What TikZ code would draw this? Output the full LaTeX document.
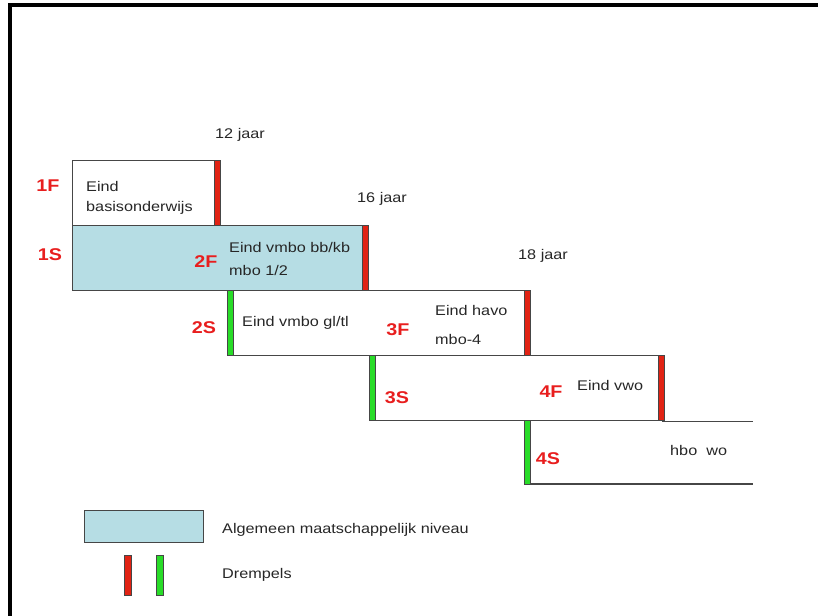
\documentclass[tikz,border=0pt]{standalone}
\usepackage{fontspec}
\setmainfont{Liberation Sans}[FakeStretch=1.16]
\usepackage{tikz}
\usetikzlibrary{positioning}
\definecolor{lijn}{RGB}{70,70,70}
\definecolor{niveaublauw}{RGB}{182,221,228}
\definecolor{drempelrood}{RGB}{225,35,20}
\definecolor{drempelgroen}{RGB}{40,220,40}
\definecolor{labelrood}{RGB}{232,30,30}
\tikzstyle{kader} = [rectangle, draw=lijn, line width=1.4pt, inner sep=0pt, anchor=north west]
\tikzstyle{rood} = [rectangle, draw=lijn, line width=0.5pt, fill=drempelrood, inner sep=0pt, minimum width=6pt, minimum height=65pt, anchor=north]
\tikzstyle{groen} = [rood, fill=drempelgroen]
\tikzstyle{niveau} = [text=labelrood, font=\bfseries\fontsize{17}{17}\selectfont, inner sep=0pt]
\tikzstyle{tekst} = [text=black!85, font=\fontsize{14}{20}\selectfont, anchor=west, inner sep=0pt, align=left]

\begin{document}
\begin{tikzpicture}[x=1pt,y=1pt]
			\clip (0,0) rectangle (818,-615);
			\draw [line width=4pt] (10,-700) -- (10,-5) -- (900,-5);
			
			% trappen
			\node (basis) [kader, minimum width=145pt, minimum height=65pt] at (72,-160) {};
			\node (amn) [kader, fill=niveaublauw, minimum width=293pt, minimum height=65pt] at (72,-225) {};
			\node (vmbo) [kader, minimum width=297pt, minimum height=65pt] at (230,-290) {};
			\node (havo) [kader, minimum width=289pt, minimum height=65pt] at (372,-355) {};
			\coordinate (hbotop) at (753,-420);
			\coordinate (hboonder) at (753,-484);
			\draw [draw=lijn, line width=1.4pt] (havo.south east) -- (havo.south east -| hbotop);
			\draw [draw=lijn, line width=1.4pt] (527,-484) -- (hboonder);
			
			% drempels
			\node (r1) [rood] at (217,-160) {};
			\node (r2) [rood] at (365,-225) {};
			\node (g2) [groen] at (230,-290) {};
			\node (r3) [rood] at (527,-290) {};
			\node (g3) [groen] at (372,-355) {};
			\node (r4) [rood] at (661,-355) {};
			\node (g4) [groen, minimum height=64pt] at (527,-420) {};
			
			% leeftijden
			\node (j12) [tekst] at (215,-135) {12 jaar};
			\node (j16) [tekst] at (357,-199) {16 jaar};
			\node (j18) [tekst] at (518,-256) {18 jaar};
			
			% niveaus
			\node (n1F) [niveau] at (48,-186) {1F};
			\node (n1S) [niveau] at (50,-255) {1S};
			\node (n2F) [niveau] at (206,-262) {2F};
			\node (n2S) [niveau] at (204,-328) {2S};
			\node (n3F) [niveau] at (398,-330) {3F};
			\node (n3S) [niveau] at (397,-398) {3S};
			\node (n4F) [niveau] at (551,-392) {4F};
			\node (n4S) [niveau] at (548,-459) {4S};
			
			% opleidingen
			\node (t1) [tekst] at (86,-197.5) {Eind\\basisonderwijs};
			\node (t2) [tekst, font=\fontsize{14}{23}\selectfont] at (229,-258.5) {Eind vmbo bb/kb\\mbo 1/2};
			\node (t3) [tekst] at (242,-323) {Eind vmbo gl/tl};
			\node (t4) [tekst, font=\fontsize{14}{29}\selectfont] at (435,-324.5) {Eind havo\\mbo-4};
			\node (t5) [tekst] at (577,-385) {Eind vwo};
			\node (t6) [tekst] at (670,-450) {hbo~~wo};
			
			% legenda
			\node (lblauw) [kader, fill=niveaublauw, minimum width=119pt, minimum height=32pt] at (84,-510) {};
			\node (lrood) [rood, minimum height=40pt, minimum width=7pt] at (127.5,-555) {};
			\node (lgroen) [groen, minimum height=40pt, minimum width=7pt] at (159.5,-555) {};
			\node (ltekst1) [tekst] at (222,-530) {Algemeen maatschappelijk niveau};
			\node (ltekst2) [tekst] at (222,-575) {Drempels};
\end{tikzpicture}
\end{document}
